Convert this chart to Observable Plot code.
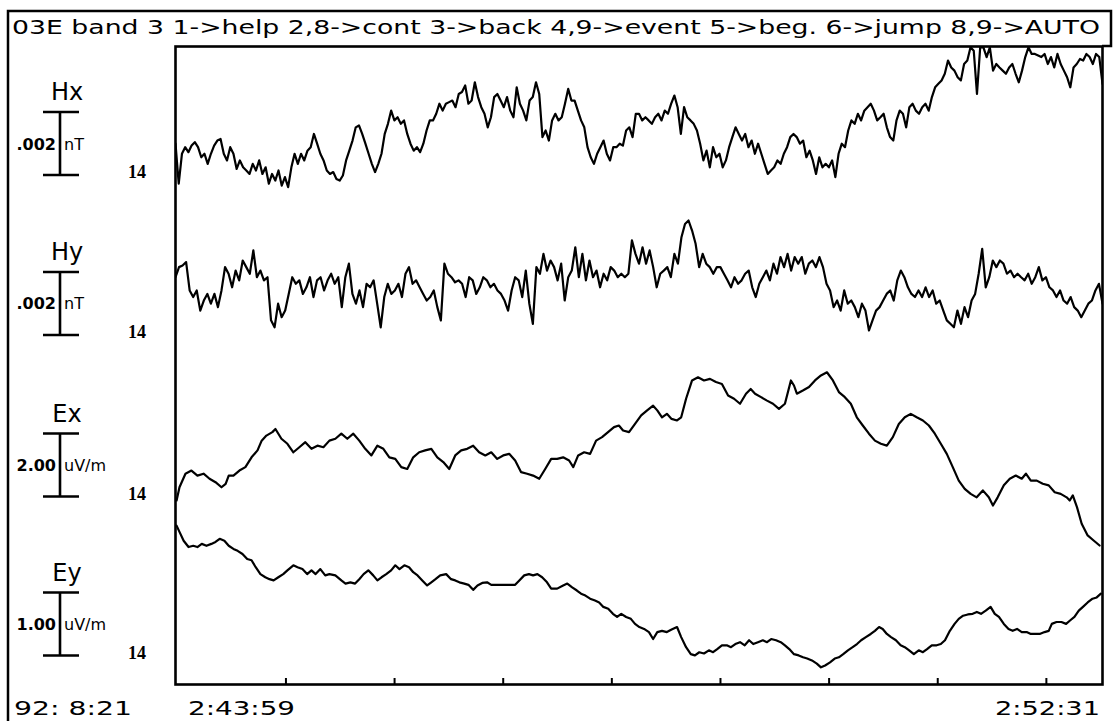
<!DOCTYPE html>
<html><head><meta charset="utf-8">
<script src="https://cdn.jsdelivr.net/npm/d3@7"></script>
<script src="https://cdn.jsdelivr.net/npm/@observablehq/plot@0.6"></script>
<style>html,body{margin:0;padding:0;background:#fff;} svg{display:block}</style>
</head><body><div id="chart"></div>
<script>
// ---------- text ----------
const titleText = "03E band 3 1->help 2,8->cont 3->back 4,9->event 5->beg. 6->jump 8,9->AUTO";
const dateLabel = "92: 8:21";
const startLabel = "2:43:59";
const endLabel = "2:52:31";
const tickLabels = ["2:45:00","2:46:00","2:47:00","2:48:00","2:49:00","2:50:00","2:51:00","2:52:00"];

// ---------- channels ----------
const channelNames = ["Hx", "Hy", "Ex", "Ey"];
const scaleBarLabels = [".002", ".002", "2.00", "1.00"];
const scaleBarUnits = ["nT", "nT", "uV/m", "uV/m"];
const scaleBarValues = [2, 2, 2.00, 1.00];   // Hx,Hy in pT (=.002 nT); Ex,Ey in uV/m
const gainLabels = ["14", "14", "14", "14"];

// ---------- series (H in pT, evenly sampled over the window; E in uV/m as [seconds, value]) ----------
const hxValues = [0.01,-1.26,-0.31,-0.10,-0.26,-0.05,0.06,-0.10,-0.42,-0.31,
-0.63,-0.31,-0.05,0.11,0.16,-0.31,-0.52,-0.10,-0.31,-0.79,
-0.52,-0.74,-0.84,-0.95,-0.63,-0.84,-0.52,-0.95,-0.74,-1.26,
-0.95,-1.16,-0.84,-1.32,-1.05,-1.37,-0.74,-0.31,-0.63,-0.31,
-0.52,-0.21,-0.10,0.32,0.01,-0.31,-0.52,-0.84,-0.95,-0.89,
-1.11,-1.16,-1.00,-0.52,-0.21,0.11,0.53,0.59,0.32,0.01,
-0.31,-0.63,-0.89,-0.63,-0.31,0.32,0.64,1.06,0.75,0.85,
0.64,0.75,0.32,0.01,-0.21,-0.10,-0.26,0.01,0.43,0.75,
0.75,0.96,1.28,1.06,1.28,1.33,1.38,1.17,1.59,1.65,
1.86,1.28,1.38,1.96,1.49,1.17,0.96,0.53,0.85,1.49,
1.59,1.38,1.17,1.49,1.06,0.85,1.80,1.28,1.06,0.75,
1.38,1.49,1.96,1.59,0.22,0.43,0.11,0.75,0.96,0.75,
0.85,1.28,1.75,1.38,1.38,1.06,0.75,0.53,-0.10,-0.42,
-0.63,-0.31,-0.10,0.11,-0.31,-0.52,-0.10,-0.10,0.01,-0.05,
0.43,0.53,0.22,0.96,
0.96,0.75,0.85,0.75,0.64,0.85,0.96,0.75,1.06,0.96,
1.28,1.54,1.17,0.32,1.17,0.85,0.75,0.64,0.43,0.01,
-0.52,-0.21,-0.74,-0.10,-0.42,-0.31,-0.74,-0.52,-0.10,0.22,
0.53,0.32,0.11,0.32,-0.10,0.11,-0.31,0.01,-0.31,-0.63,
-0.95,-0.84,-0.74,-0.52,-0.63,-0.31,-0.10,0.22,0.32,0.22,
0.01,0.11,-0.42,-0.21,-0.52,-0.95,-0.42,-0.74,-0.63,-0.74,
-0.52,-1.05,-0.31,0.01,-0.10,0.43,0.75,0.64,0.96,0.75,
1.06,1.17,1.28,1.06,0.75,0.85,0.96,0.53,0.22,0.11,
0.75,1.06,0.96,0.53,1.17,1.28,1.06,0.96,1.17,1.28,
1.06,1.49,1.80,1.91,2.02,2.23,2.65,2.43,2.33,2.12,
2.02,2.54,2.65,3.07,2.96,1.59,3.07,3.07,2.76,3.07,
2.33,2.54,2.43,2.33,2.23,2.43,2.54,2.23,1.96,2.33,
2.76,3.07,2.86,2.86,2.81,2.76,2.86,2.54,2.76,2.43,
2.86,2.54,2.33,2.12,1.80,2.43,2.54,2.70,2.65,2.86,
2.76,2.54,2.86,2.76,1.91];

const hyValues = [0.85,1.17,1.22,1.33,0.43,0.22,0.43,-0.21,0.11,0.32,
0.01,0.32,-0.10,0.43,1.17,0.96,0.53,1.06,0.75,1.38,
1.17,0.96,1.70,0.85,1.06,0.75,0.85,-0.52,-0.74,0.01,
-0.42,-0.21,0.32,0.85,0.64,0.75,0.32,0.53,0.85,0.22,
0.75,0.85,0.43,0.75,0.96,0.64,0.85,-0.10,0.85,1.28,
0.32,0.01,0.43,-0.10,0.64,0.53,0.75,0.01,-0.74,0.22,
0.64,0.32,0.43,0.64,0.22,0.96,1.17,0.64,0.75,0.53,
0.32,0.11,0.22,0.43,-0.10,-0.52,1.28,0.96,0.85,0.69,
0.75,0.64,0.22,0.85,0.75,0.32,0.53,0.85,0.75,0.53,
0.64,0.43,0.32,0.11,-0.21,0.43,0.85,0.75,0.22,1.06,
0.01,-0.63,1.17,0.96,1.59,1.06,1.38,1.17,0.75,1.28,
0.11,0.85,1.06,1.80,0.85,1.59,0.75,1.38,0.85,1.06,
0.53,0.96,0.75,1.17,1.06,0.85,0.96,0.85,0.96,2.02,
1.59,1.28,1.80,1.28,1.70,1.17,0.53,0.96,1.06,1.17,
0.85,1.59,1.28,2.12,2.54,2.65,2.33,1.91,1.17,1.59,
1.28,1.17,0.96,1.17,1.17,0.96,0.75,0.53,0.85,0.64,
0.75,0.96,1.06,0.53,0.22,0.64,0.85,1.06,0.75,1.28,
0.96,1.49,1.17,1.59,1.06,1.49,1.28,1.49,0.96,1.28,
1.38,1.17,1.49,1.17,0.64,0.43,-0.10,0.11,-0.21,0.43,
0.01,0.11,-0.10,-0.42,0.01,-0.21,-0.84,-0.52,-0.21,-0.10,
0.11,0.32,0.43,0.11,0.75,1.06,0.85,0.53,0.32,0.22,
0.43,0.22,0.53,0.22,0.43,0.01,0.11,-0.21,-0.52,-0.63,
-0.74,-0.21,-0.63,-0.10,-0.42,0.11,0.32,0.96,1.75,0.53,
0.85,1.38,1.17,1.38,1.28,0.96,1.06,0.85,0.96,0.85,
0.75,0.96,0.64,0.85,1.17,0.75,0.85,0.53,0.43,0.22,
0.43,0.11,0.01,0.22,-0.10,-0.21,-0.42,-0.21,0.01,0.11,
0.43,0.64,0.01];

const exSamples = [[0.6,-1.11],[2.2,-0.69],[5.5,-0.26],[8.8,-0.16],[12.1,-0.32],[15.5,-0.26],[18.8,-0.42],[22.1,-0.53],[25.4,-0.69],[27.7,-0.58],
[29.4,-0.32],[32.0,-0.32],[35.3,-0.16],[38.6,-0.05],[42.0,0.26],[45.3,0.48],[47.6,0.79],[50.2,0.95],[53.5,1.06],[55.2,1.16],
[58.5,0.85],[61.8,0.69],[65.1,0.42],[68.4,0.58],[71.7,0.74],[75.1,0.53],[78.4,0.63],[81.7,0.58],[85.0,0.79],[88.3,0.85],
[91.6,1.01],[94.9,0.85],[98.2,1.01],[101.5,0.79],[104.8,0.53],[108.2,0.32],[111.5,0.63],[114.8,0.53],[118.1,0.26],[121.4,0.21],
[124.7,-0.05],[128.0,-0.11],[131.3,0.26],[134.6,0.42],[137.9,0.48],[141.3,0.53],[144.6,0.26],[147.9,0.11],[151.2,-0.11],[154.5,0.32],
[157.8,0.48],[161.1,0.53],[164.4,0.63],[167.7,0.42],[171.1,0.32],[174.4,0.42],[177.7,0.21],[181.0,0.32],[184.3,0.37],[187.6,0.16],
[190.9,-0.21],[194.2,-0.26],[197.5,-0.32],[200.9,-0.42],[204.2,-0.11],[207.5,0.21],[210.8,0.21],[214.1,0.26],[217.4,0.16],[219.7,-0.05],
[222.4,0.32],[225.7,0.42],[229.0,0.37],[232.3,0.79],[235.6,0.90],[238.9,1.06],[242.2,1.22],[244.9,1.27],[247.2,1.11],[250.5,1.06],
[253.8,1.32],[257.2,1.59],[260.5,1.75],[263.8,1.90],[266.1,1.75],[268.7,1.53],[271.4,1.64],[274.0,1.48],[277.0,1.43],[279.3,1.53],
[282.0,2.12],[285.3,2.70],[288.6,2.80],[291.9,2.70],[295.2,2.75],[298.5,2.65],[301.8,2.59],[305.2,2.22],[308.5,2.12],[311.8,1.96],
[315.1,2.28],[317.7,2.43],[320.1,2.28],[323.4,2.17],[326.7,2.06],[330.0,1.96],[333.3,1.80],[336.6,1.96],[339.9,2.70],[341.6,2.54],
[343.2,2.28],[346.5,2.38],[349.9,2.49],[353.2,2.70],[356.5,2.86],[359.8,2.96],[363.1,2.70],[366.4,2.33],[369.7,2.17],[373.0,1.96],
[376.3,1.53],[379.6,1.27],[383.0,1.01],[386.3,0.79],[389.6,0.69],[392.9,0.63],[396.2,0.90],[399.5,1.32],[402.8,1.53],[406.1,1.64],
[409.4,1.53],[412.8,1.43],[416.1,1.27],[419.4,1.01],[422.7,0.69],[426.0,0.37],[429.3,-0.05],[432.6,-0.48],[435.9,-0.74],[439.2,-0.90],
[442.5,-1.01],[445.9,-0.79],[449.2,-1.01],[451.5,-1.27],[454.1,-1.01],[457.5,-0.63],[460.8,-0.42],[464.1,-0.32],[467.4,-0.42],[469.7,-0.26],
[472.4,-0.48],[475.7,-0.48],[479.0,-0.58],[482.3,-0.63],[485.6,-0.85],[488.9,-0.90],[492.2,-1.01],[493.9,-1.11],[495.6,-0.95],[497.9,-1.32],
[500.5,-1.85],[503.8,-2.22],[507.1,-2.38],[510.4,-2.54]];

const eySamples = [[0.6,1.57],[2.2,1.47],[4.5,1.33],[7.2,1.23],[9.8,1.25],[12.1,1.23],[14.5,1.28],[17.1,1.25],[19.8,1.28],[22.1,1.31],
[24.4,1.36],[27.0,1.33],[29.4,1.25],[32.0,1.20],[34.3,1.17],[37.0,1.12],[39.6,1.04],[42.0,1.02],[44.3,0.91],[46.9,0.80],
[49.6,0.75],[51.9,0.72],[54.2,0.70],[56.8,0.75],[59.5,0.80],[61.8,0.86],[65.1,0.94],[67.4,0.91],[70.1,0.88],[72.7,0.80],
[75.1,0.86],[77.4,0.80],[80.0,0.88],[82.7,0.78],[85.0,0.80],[88.3,0.78],[91.6,0.70],[93.9,0.65],[96.6,0.67],[99.2,0.65],
[101.5,0.72],[103.9,0.80],[106.5,0.86],[109.2,0.78],[111.5,0.70],[113.8,0.75],[116.4,0.80],[119.1,0.86],[121.4,0.94],[123.7,0.88],
[126.4,0.94],[129.0,0.91],[131.3,0.83],[133.7,0.78],[136.3,0.70],[139.0,0.62],[141.3,0.67],[143.6,0.72],[146.2,0.78],[149.5,0.80],
[152.2,0.72],[154.5,0.70],[156.8,0.67],[159.5,0.65],[161.8,0.63],[164.4,0.55],[166.8,0.62],[169.4,0.66],[172.1,0.67],[174.4,0.63],
[177.7,0.63],[181.0,0.63],[184.3,0.63],[187.6,0.63],[189.9,0.70],[192.6,0.78],[195.2,0.80],[197.5,0.78],[199.9,0.80],[202.5,0.75],
[205.2,0.67],[207.5,0.57],[210.8,0.57],[214.1,0.62],[216.4,0.65],[219.1,0.59],[221.7,0.54],[224.0,0.49],[226.4,0.46],[229.0,0.41],
[231.7,0.38],[234.0,0.35],[236.3,0.28],[239.0,0.25],[241.6,0.17],[243.9,0.12],[246.2,0.17],[248.9,0.12],[251.5,0.09],[253.8,0.01],
[256.2,-0.04],[258.8,-0.07],[261.5,-0.12],[263.8,-0.23],[266.1,-0.12],[268.7,-0.10],[271.4,-0.12],[274.0,-0.08],[277.0,-0.04],[279.3,-0.20],
[282.0,-0.36],[284.6,-0.47],[286.9,-0.49],[289.3,-0.44],[291.9,-0.46],[294.6,-0.41],[296.9,-0.44],[299.2,-0.39],[301.8,-0.33],[304.5,-0.33],
[306.8,-0.36],[309.2,-0.31],[311.8,-0.28],[314.4,-0.33],[316.8,-0.25],[319.1,-0.31],[321.7,-0.28],[324.4,-0.25],[326.7,-0.28],[329.0,-0.23],
[331.7,-0.25],[334.3,-0.28],[336.6,-0.33],[339.0,-0.39],[341.6,-0.47],[344.2,-0.49],[346.6,-0.52],[348.9,-0.54],[351.5,-0.57],[354.2,-0.62],
[356.5,-0.68],[358.8,-0.65],[361.5,-0.60],[364.1,-0.54],[366.4,-0.52],[368.8,-0.47],[371.4,-0.41],[374.0,-0.36],[376.4,-0.31],[378.7,-0.25],
[381.3,-0.20],[384.0,-0.15],[386.3,-0.10],[388.6,-0.04],[390.6,-0.07],[392.9,-0.15],[395.2,-0.20],[397.9,-0.25],[400.5,-0.33],[402.8,-0.36],
[405.2,-0.41],[407.8,-0.47],[410.5,-0.41],[412.8,-0.44],[415.1,-0.39],[417.7,-0.33],[420.4,-0.33],[422.7,-0.31],[425.0,-0.25],[427.7,-0.10],
[430.3,0.01],[432.6,0.09],[435.0,0.14],[437.6,0.16],[440.3,0.17],[442.6,0.20],[444.9,0.17],[447.5,0.22],[450.2,0.28],[452.5,0.17],
[454.8,0.12],[457.5,0.01],[460.1,-0.07],[462.4,-0.10],[464.8,-0.07],[467.4,-0.12],[470.1,-0.12],[472.4,-0.15],[474.7,-0.15],[477.3,-0.15],
[480.0,-0.12],[482.3,-0.10],[484.0,0.01],[486.6,0.04],[489.3,0.04],[491.9,0.01],[493.9,0.06],[496.5,0.12],[498.9,0.22],[501.2,0.28],
[503.8,0.35],[506.5,0.41],[508.8,0.43],[511.1,0.49]];

// ---------- layout (in scale-bar units, measured from the bottom of the frame) ----------
const trackLevels = [8.579, 6.040, 3.476, 0.952];
const trackSpan = 10.127;

// ---------- build ----------
const toSec = s => s.split(":").reduce((a, b) => a * 60 + +b, 0);
const t0 = toSec(startLabel);
const duration = toSec(endLabel) - t0;
const tickSeconds = tickLabels.map(s => toSec(s) - t0);

const rows = [];
[hxValues, hyValues].forEach((vals, i) => {
  vals.forEach((v, k) => rows.push({channel: channelNames[i], t: k * duration / (vals.length - 1), y: trackLevels[i] + v / scaleBarValues[i]}));
});
[exSamples, eySamples].forEach((arr, j) => {
  const i = j + 2;
  arr.forEach(([t, v]) => rows.push({channel: channelNames[i], t, y: trackLevels[i] + v / scaleBarValues[i]}));
});

const FONT = "DejaVu Sans";

function decorations(index, scales, values, dims) {
  const {width: W, height: H, marginLeft: L, marginTop: T, marginRight: R, marginBottom: B} = dims;
  const g = d3.create("svg:g").attr("fill", "black").attr("text-anchor", "start");
  const frameRight = W - R, frameBottom = H - B;
  // outer screen border
  g.append("path")
    .attr("d", `M${L - 167},${H} V${T - 35} H${W - 3} V${T} H${frameRight}`)
    .attr("fill", "none").attr("stroke", "black").attr("stroke-width", 2.5);
  // title
  g.append("text").text(titleText)
    .attr("x", L - 163).attr("y", T - 12).attr("text-anchor", "start")
    .attr("font-family", FONT).attr("font-size", 19)
    .attr("textLength", frameRight - (L - 163) - 2).attr("lengthAdjust", "spacingAndGlyphs");
  // channel annotations
  channelNames.forEach((name, i) => {
    const yTop = scales.y(trackLevels[i] + 0.5);
    const yBot = scales.y(trackLevels[i] - 0.5);
    const yMid = (yTop + yBot) / 2;
    const bx = L - 115;
    g.append("text").text(name).attr("x", L - 108).attr("y", yTop - 12)
      .attr("text-anchor", "middle").attr("font-family", FONT).attr("font-size", 24);
    g.append("path").attr("d", `M${bx},${yTop} V${yBot} M${bx - 17},${yTop} H${bx + 19} M${bx - 17},${yBot} H${bx + 19}`)
      .attr("stroke", "black").attr("stroke-width", 2.6).attr("fill", "none");
    g.append("text").text(scaleBarLabels[i]).attr("x", bx - 4).attr("y", yMid + 6)
      .attr("text-anchor", "end").attr("font-family", FONT).attr("font-size", 16).attr("font-weight", "bold");
    g.append("text").text(scaleBarUnits[i]).attr("x", bx + 4).attr("y", yMid + 6)
      .attr("text-anchor", "start").attr("font-family", FONT).attr("font-size", 16);
    g.append("text").text(gainLabels[i]).attr("x", L - 38).attr("y", yBot + 3)
      .attr("text-anchor", "middle").attr("font-family", "Liberation Serif").attr("font-size", 18).attr("font-weight", "bold");
  });
  // bottom labels
  const by = frameBottom + 31;
  g.append("text").text(dateLabel).attr("x", L - 161).attr("y", by).attr("text-anchor", "start")
    .attr("font-family", FONT).attr("font-size", 20)
    .attr("textLength", 118).attr("lengthAdjust", "spacingAndGlyphs");
  g.append("text").text(startLabel).attr("x", scales.x(0) + 13).attr("y", by).attr("text-anchor", "start")
    .attr("font-family", FONT).attr("font-size", 20)
    .attr("textLength", 107).attr("lengthAdjust", "spacingAndGlyphs");
  g.append("text").text(endLabel).attr("x", scales.x(duration) - 107).attr("y", by).attr("text-anchor", "start")
    .attr("font-family", FONT).attr("font-size", 20)
    .attr("textLength", 105).attr("lengthAdjust", "spacingAndGlyphs");
  return g.node();
}

const chart = Plot.plot({
  width: 1114,
  height: 721,
  marginLeft: 175,
  marginRight: 12,
  marginTop: 46,
  marginBottom: 37,
  style: {background: "white", fontFamily: FONT},
  x: {domain: [0, duration], axis: null},
  y: {domain: [0, trackSpan], axis: null},
  marks: [
    Plot.line(rows, {x: "t", y: "y", z: "channel", stroke: "black", strokeWidth: 2.2, strokeLinejoin: "round", clip: true}),
    Plot.axisX(tickSeconds, {tickSize: -6, tickFormat: () => "", label: null, strokeWidth: 2}),
    Plot.frame({stroke: "black", strokeWidth: 2.6}),
    decorations
  ]
});
document.getElementById("chart").append(chart);
</script>
</body></html>
